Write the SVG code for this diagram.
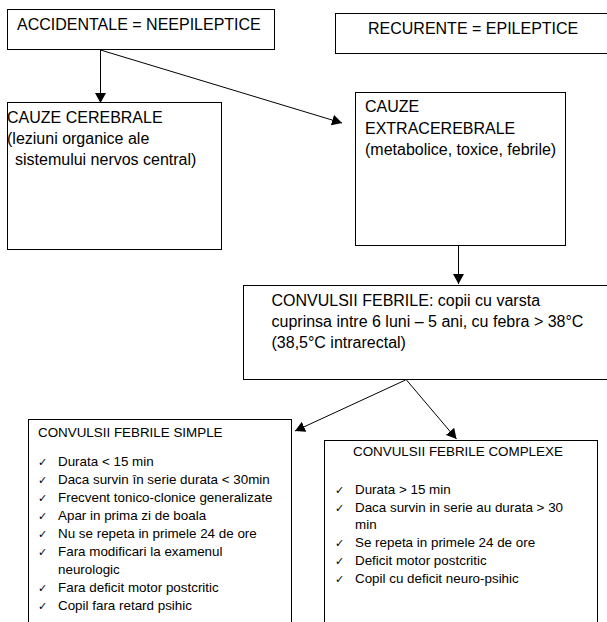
<svg xmlns="http://www.w3.org/2000/svg" width="607" height="622" viewBox="0 0 607 622">
  <style>
    .box { fill: #ffffff; stroke: #000000; stroke-width: 1; }
    .t16 { font-family: "Liberation Sans", Arial, sans-serif; font-size: 16px; fill: #000000; }
    .t13 { font-family: "Liberation Sans", Arial, sans-serif; font-size: 13.4px; fill: #000000; }
    .chk { font-family: "DejaVu Sans", sans-serif; font-size: 11px; fill: #000000; }
    .conn { stroke: #000000; stroke-width: 1; fill: none; marker-end: url(#arrow); }
  </style>
  <defs>
    <marker id="arrow" markerUnits="userSpaceOnUse" markerWidth="11" markerHeight="11" refX="10" refY="5.5" orient="auto">
      <path d="M0,0 L10,5.5 L0,11 z" fill="#000000"/>
    </marker>
  </defs>
  <rect width="607" height="622" fill="#ffffff"/>

  <g id="accidentale">
    <rect class="box" x="7.5" y="9.5" width="267" height="40"/>
    <text class="t16" x="17" y="30">ACCIDENTALE = NEEPILEPTICE</text>
  </g>

  <g id="recurente">
    <rect class="box" x="335.5" y="13.5" width="290" height="40"/>
    <text class="t16" x="368" y="34">RECURENTE = EPILEPTICE</text>
  </g>

  <g id="cauze-cerebrale">
    <rect class="box" x="7.5" y="102.5" width="214" height="147"/>
    <text class="t16" x="7" y="122.5">CAUZE CEREBRALE</text>
    <text class="t16" x="7" y="143.5">(leziuni organice ale</text>
    <text class="t16" x="15" y="164.5">sistemului nervos central)</text>
  </g>

  <g id="cauze-extracerebrale">
    <rect class="box" x="355.5" y="92.5" width="210" height="153"/>
    <text class="t16" x="365" y="112">CAUZE</text>
    <text class="t16" x="365" y="133.5">EXTRACEREBRALE</text>
    <text class="t16" x="365" y="154.5">(metabolice, toxice, febrile)</text>
  </g>

  <g id="convulsii-febrile">
    <rect class="box" x="243.5" y="285.5" width="380" height="94"/>
    <text class="t16" x="271.5" y="306">CONVULSII FEBRILE: copii cu varsta</text>
    <text class="t16" x="271.5" y="327">cuprinsa intre 6 luni – 5 ani, cu febra &gt; 38°C</text>
    <text class="t16" x="271.5" y="347.5">(38,5°C intrarectal)</text>
  </g>

  <g id="convulsii-simple">
    <rect class="box" x="28.5" y="419.5" width="263" height="220"/>
    <text class="t13" x="38" y="437">CONVULSII FEBRILE SIMPLE</text>
    <text class="chk" x="38" y="466">✓</text><text class="t13" x="58" y="466">Durata &lt; 15 min</text>
    <text class="chk" x="38" y="484">✓</text><text class="t13" x="58" y="484">Daca survin în serie durata &lt; 30min</text>
    <text class="chk" x="38" y="502">✓</text><text class="t13" x="58" y="502">Frecvent tonico-clonice generalizate</text>
    <text class="chk" x="38" y="520">✓</text><text class="t13" x="58" y="520">Apar in prima zi de boala</text>
    <text class="chk" x="38" y="538">✓</text><text class="t13" x="58" y="538">Nu se repeta in primele 24 de ore</text>
    <text class="chk" x="38" y="556">✓</text><text class="t13" x="58" y="556">Fara modificari la examenul</text>
    <text class="t13" x="58" y="573.5">neurologic</text>
    <text class="chk" x="38" y="591.5">✓</text><text class="t13" x="58" y="591.5">Fara deficit motor postcritic</text>
    <text class="chk" x="38" y="609.5">✓</text><text class="t13" x="58" y="609.5">Copil fara retard psihic</text>
  </g>

  <g id="convulsii-complexe">
    <rect class="box" x="324.5" y="440.5" width="273" height="200"/>
    <text class="t13" x="353" y="455.5">CONVULSII FEBRILE COMPLEXE</text>
    <text class="chk" x="335" y="493.5">✓</text><text class="t13" x="355" y="493.5">Durata &gt; 15 min</text>
    <text class="chk" x="335" y="512">✓</text><text class="t13" x="355" y="512">Daca survin in serie au durata &gt; 30</text>
    <text class="t13" x="355" y="528.5">min</text>
    <text class="chk" x="335" y="547">✓</text><text class="t13" x="355" y="547">Se repeta in primele 24 de ore</text>
    <text class="chk" x="335" y="564.5">✓</text><text class="t13" x="355" y="564.5">Deficit motor postcritic</text>
    <text class="chk" x="335" y="582.5">✓</text><text class="t13" x="355" y="582.5">Copil cu deficit neuro-psihic</text>
  </g>

  <g id="connectors">
    <line class="conn" x1="100.5" y1="50" x2="100.5" y2="103"/>
    <line class="conn" x1="100.5" y1="50" x2="342" y2="123"/>
    <line class="conn" x1="458.5" y1="246" x2="458.5" y2="284"/>
    <line class="conn" x1="405.5" y1="380" x2="295" y2="431"/>
    <line class="conn" x1="406.5" y1="380" x2="456.5" y2="439"/>
  </g>
</svg>
